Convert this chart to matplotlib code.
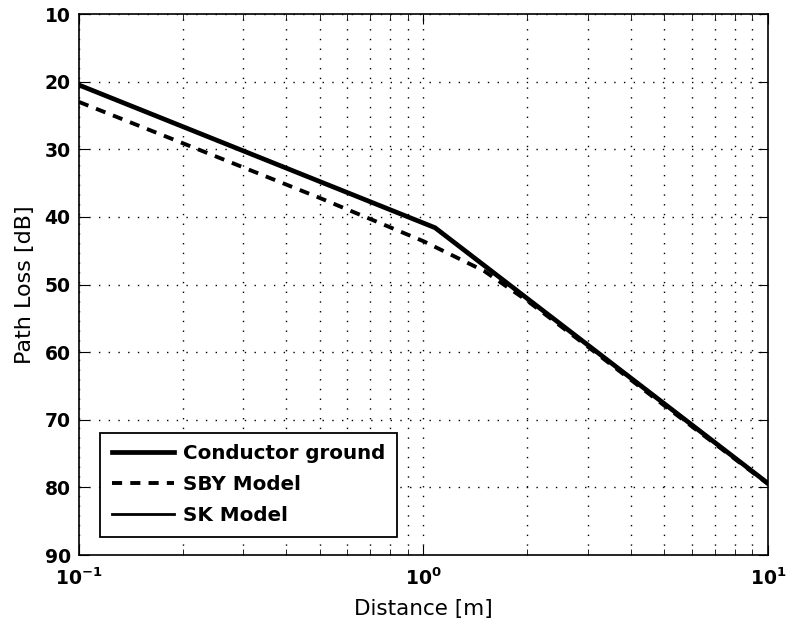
import numpy as np
import matplotlib
matplotlib.use("Agg")
import matplotlib.pyplot as plt
from matplotlib.ticker import LogLocator, FixedLocator

plt.rcParams['font.family'] = ['DejaVu Sans']

# path loss vs. distance (read in m / dB)
dist_cg = [0.1, 1.08, 10.0]
loss_cg = [20.5, 41.6, 79.4]

dist_sby = [0.1, 0.2, 0.5, 1.0, 1.5, 2.0, 3.0, 5.0, 10.0]
loss_sby = [23.0, 29.1, 37.2, 43.6, 48.0, 52.4, 59.2, 67.9, 79.5]

dist_sk = [0.1, 1.08, 10.0]
loss_sk = [20.5, 41.6, 79.4]

fig = plt.figure(figsize=(7.86, 6.2), dpi=100)
ax = fig.add_axes([0.1005, 0.1048, 0.8766, 0.8726])

ax.plot(dist_cg, loss_cg, color='black', lw=3.4, label='Conductor ground')
ax.plot(dist_sby, loss_sby, color='black', lw=2.8, ls=(0, (2.6, 2.1)), label='SBY Model')
ax.plot(dist_sk, loss_sk, color='black', lw=2.0, label='SK Model')

ax.set_xscale('log')
ax.set_xlim(0.1, 10)
ax.set_ylim(90, 10)
ax.yaxis.set_major_locator(FixedLocator(np.arange(10, 91, 10)))
ax.xaxis.set_major_locator(LogLocator(base=10))
ax.xaxis.set_minor_locator(LogLocator(base=10, subs=np.arange(2, 10)))

ax.grid(True, which='major', color='black', ls=(0, (1, 6)), lw=1.0)
ax.grid(True, which='minor', axis='x', color='black', ls=(0, (1, 6)), lw=1.0)

ax.tick_params(which='both', direction='in', top=True, right=True)
ax.tick_params(which='major', length=7, labelsize=13.5)
ax.tick_params(axis='y', pad=6)
ax.tick_params(axis='x', pad=9)
ax.tick_params(which='minor', length=4)
for lab in ax.get_xticklabels() + ax.get_yticklabels():
    lab.set_fontweight('bold')
for sp in ax.spines.values():
    sp.set_linewidth(1.2)

ax.set_xlabel('Distance [m]', fontsize=15.5, labelpad=7)
ax.set_ylabel('Path Loss [dB]', fontsize=16, labelpad=7)

leg = ax.legend(loc='lower left', bbox_to_anchor=(0.031, 0.033), borderaxespad=0,
                fancybox=False, edgecolor='black', framealpha=1,
                prop={'size': 14.3, 'weight': 'bold'}, handlelength=3.1,
                handletextpad=0.45, labelspacing=0.6, borderpad=0.6)
leg.get_frame().set_linewidth(1.3)

fig.savefig('out.png', dpi=100)
